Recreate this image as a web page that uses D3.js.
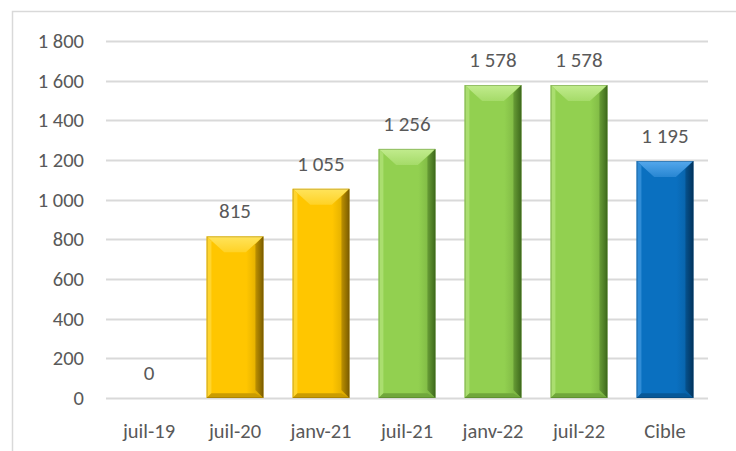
<!DOCTYPE html>
<html>
<head>
<meta charset="utf-8">
<script src="https://cdn.jsdelivr.net/npm/d3@7"></script>
<style>
  body { margin: 0; background: #fff; }
  text { font-family: Carlito, Lato, sans-serif; fill: #595959; }
</style>
</head>
<body>
<svg width="736" height="451"></svg>
<script>
const categories = ["juil-19", "juil-20", "janv-21", "juil-21", "janv-22", "juil-22", "Cible"];
const values     = [0, 815, 1055, 1256, 1578, 1578, 1195];
const groups     = ["gold", "gold", "gold", "green", "green", "green", "blue"];
const yTicks     = [0, 200, 400, 600, 800, 1000, 1200, 1400, 1600, 1800];

const palette = {
  gold:  {base: "#ffc600", light: "#ffe45c", dark: "#7a5c00"},
  green: {base: "#92d050", light: "#c2ec8e", dark: "#3e6a1c"},
  blue:  {base: "#0a70c0", light: "#55a8ec", dark: "#02335c"}
};

const svg = d3.select("svg");
const margin = {top: 41, right: 28, bottom: 53, left: 106};
const width  = 736 - margin.left - margin.right;
const height = 451 - margin.top - margin.bottom;
const fontFam = "Carlito, Lato, sans-serif";

const fmt = v => d3.format(",")(v).replace(/,/g, "\u202f");

// chart frame
svg.append("rect")
  .attr("x", 12.5).attr("y", 11.5)
  .attr("width", 740).attr("height", 460)
  .attr("fill", "none").attr("stroke", "#d9d9d9").attr("stroke-width", 1.5);

const x = d3.scaleBand().domain(categories).range([0, width]).paddingInner(0.34).paddingOuter(0.17);
const y = d3.scaleLinear().domain([0, 1800]).range([height, 0]);

const g = svg.append("g").attr("transform", `translate(${margin.left},${margin.top})`);

// gridlines
g.append("g")
  .selectAll("line")
  .data(yTicks)
  .join("line")
  .attr("x1", 0).attr("x2", width)
  .attr("y1", d => Math.round(y(d)) + 0.5).attr("y2", d => Math.round(y(d)) + 0.5)
  .attr("stroke", "#d9d9d9").attr("stroke-width", 2);

// y axis labels
const yAxis = g.append("g")
  .call(d3.axisLeft(y).tickValues(yTicks).tickFormat(fmt).tickSize(0).tickPadding(22));
yAxis.select(".domain").remove();
yAxis.selectAll("text").attr("font-size", 20.5).attr("fill", "#595959")
  .style("font-family", fontFam);

// x axis labels
const xAxis = g.append("g")
  .attr("transform", `translate(0,${height})`)
  .call(d3.axisBottom(x).tickSize(0).tickPadding(25));
xAxis.select(".domain").remove();
xAxis.selectAll("text").attr("font-size", 20.5).attr("fill", "#595959")
  .style("font-family", fontFam);

// gradients
const defs = svg.append("defs");
Object.entries(palette).forEach(([k, c]) => {
  const lg = defs.append("linearGradient").attr("id", "front-" + k)
    .attr("x1", 0).attr("x2", 1).attr("y1", 0).attr("y2", 0);
  lg.append("stop").attr("offset", 0).attr("stop-color", c.base);
  lg.append("stop").attr("offset", 0.7).attr("stop-color", c.base);
  lg.append("stop").attr("offset", 1).attr("stop-color", d3.interpolateRgb(c.base, c.dark)(0.35));
  const rg = defs.append("linearGradient").attr("id", "right-" + k)
    .attr("x1", 0).attr("x2", 1).attr("y1", 0).attr("y2", 0);
  rg.append("stop").attr("offset", 0).attr("stop-color", d3.interpolateRgb(c.base, c.dark)(0.5));
  rg.append("stop").attr("offset", 1).attr("stop-color", c.dark);
  const tg = defs.append("linearGradient").attr("id", "top-" + k)
    .attr("x1", 0).attr("x2", 0).attr("y1", 0).attr("y2", 1);
  tg.append("stop").attr("offset", 0).attr("stop-color", c.light);
  tg.append("stop").attr("offset", 1).attr("stop-color", d3.interpolateRgb(c.base, c.light)(0.4));
});

// bevelled bars
const bev = 8;
const bars = g.append("g")
  .selectAll("g.bar")
  .data(categories.map((c, i) => ({cat: c, value: values[i], group: groups[i]})).filter(d => d.value > 0))
  .join("g")
  .attr("class", "bar");

bars.each(function(d) {
  const sel = d3.select(this);
  const c = palette[d.group];
  const x0 = x(d.cat), x1 = x0 + x.bandwidth();
  const y0 = y(d.value), y1 = y(0);
  const b = Math.min(bev, (y1 - y0) / 2);
  const poly = pts => pts.map(p => p.join(",")).join(" ");
  sel.append("rect").attr("x", x0).attr("y", y0).attr("width", x1 - x0).attr("height", y1 - y0)
    .attr("fill", `url(#front-${d.group})`);
  // top bevel
  sel.append("polygon")
    .attr("points", poly([[x0, y0], [x1, y0], [x1 - b * 2.2, y0 + b * 2], [x0 + b * 2.2, y0 + b * 2]]))
    .attr("fill", `url(#top-${d.group})`);
  // left bevel
  sel.append("polygon")
    .attr("points", poly([[x0, y0], [x0 + b * 0.6, y0 + b * 0.6], [x0 + b * 0.6, y1 - b * 0.6], [x0, y1]]))
    .attr("fill", d3.interpolateRgb(c.base, c.light)(0.5));
  // right bevel
  sel.append("polygon")
    .attr("points", poly([[x1, y0], [x1 - b, y0 + b], [x1 - b, y1 - b], [x1, y1]]))
    .attr("fill", `url(#right-${d.group})`);
  // bottom bevel
  sel.append("polygon")
    .attr("points", poly([[x0, y1], [x1, y1], [x1 - b, y1 - b * 0.6], [x0 + b * 0.6, y1 - b * 0.6]]))
    .attr("fill", d3.interpolateRgb(c.base, c.dark)(0.4));
  sel.append("rect").attr("x", x0 + 0.5).attr("y", y0 + 0.5).attr("width", x1 - x0 - 1).attr("height", y1 - y0 - 1)
    .attr("fill", "none").attr("stroke", c.dark).attr("stroke-opacity", 0.35);
});

// data labels
g.append("g")
  .selectAll("text")
  .data(categories.map((c, i) => ({cat: c, value: values[i]})))
  .join("text")
  .attr("x", d => x(d.cat) + x.bandwidth() / 2)
  .attr("y", d => y(d.value) - 18)
  .attr("text-anchor", "middle")
  .attr("font-size", 21)
  .style("font-family", fontFam)
  .attr("fill", "#404040")
  .text(d => fmt(d.value));
</script>
</body>
</html>
